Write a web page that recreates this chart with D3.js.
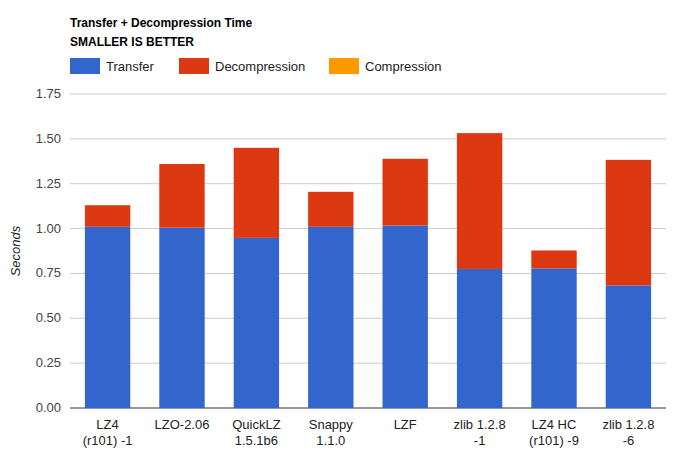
<!DOCTYPE html><html><head><script src="https://cdn.jsdelivr.net/npm/d3@7"></script>
<style>body{margin:0;background:#fff}text{font-family:Arial,"Liberation Sans",sans-serif}</style></head><body>
<svg id="c" width="681" height="459"></svg>
<script>
const categories=[["LZ4","(r101) -1"],["LZO-2.06"],["QuickLZ","1.5.1b6"],["Snappy","1.1.0"],["LZF"],["zlib 1.2.8","-1"],["LZ4 HC","(r101) -9"],["zlib 1.2.8","-6"]];
const transfer=[1.01,1.005,0.948,1.01,1.017,0.775,0.778,0.683];
const decompression=[0.12,0.355,0.502,0.195,0.372,0.757,0.1,0.7];
const compression=[0,0,0,0,0,0,0,0];
const yTicks=[0,0.25,0.5,0.75,1,1.25,1.5,1.75];
const series=[["Transfer",transfer,"#3366cc"],["Decompression",decompression,"#dc3912"],["Compression",compression,"#ff9900"]];
const svg=d3.select("#c");
const x=d3.scaleBand().domain(d3.range(categories.length)).range([70,666]).paddingInner(0.39).paddingOuter(0.2);
const y=d3.scaleLinear().domain([0,1.75]).range([408,94]);
svg.append("g").selectAll("line").data(yTicks).join("line").attr("x1",70).attr("x2",666).attr("y1",d=>y(d)).attr("y2",d=>y(d)).attr("stroke",d=>d===0?"#333":"#ccc");
svg.append("g").selectAll("text").data(yTicks).join("text").attr("x",61).attr("y",d=>y(d)+4).attr("text-anchor","end").attr("font-size",13).attr("fill","#444").text(d=>d.toFixed(2));
categories.forEach((c,i)=>{let base=0;series.forEach(s=>{const v=s[1][i];if(v>0){svg.append("rect").attr("x",x(i)).attr("width",x.bandwidth()).attr("y",y(base+v)).attr("height",y(base)-y(base+v)).attr("fill",s[2]);}base+=v;});
 c.forEach((t,j)=>svg.append("text").attr("x",x(i)+x.bandwidth()/2).attr("y",429+j*16).attr("text-anchor","middle").attr("font-size",13).attr("fill","#222").text(t));});
svg.append("g").selectAll("line").data(yTicks.slice(1)).join("line");
svg.append("text").attr("transform","translate(20,251) rotate(-90)").attr("text-anchor","middle").attr("font-size",13).attr("font-style","italic").attr("fill","#222").text("Seconds");
svg.append("text").attr("x",70).attr("y",27).attr("font-size",12).attr("font-weight","bold").text("Transfer + Decompression Time");
svg.append("text").attr("x",70).attr("y",46).attr("font-size",12).attr("font-weight","bold").text("SMALLER IS BETTER");
const lx=[70,179,329];
series.forEach((s,i)=>{svg.append("rect").attr("x",lx[i]).attr("y",58).attr("width",30).attr("height",16).attr("fill",s[2]);
 svg.append("text").attr("x",lx[i]+36).attr("y",71).attr("font-size",13).attr("fill","#222").text(s[0]);});
</script></body></html>
